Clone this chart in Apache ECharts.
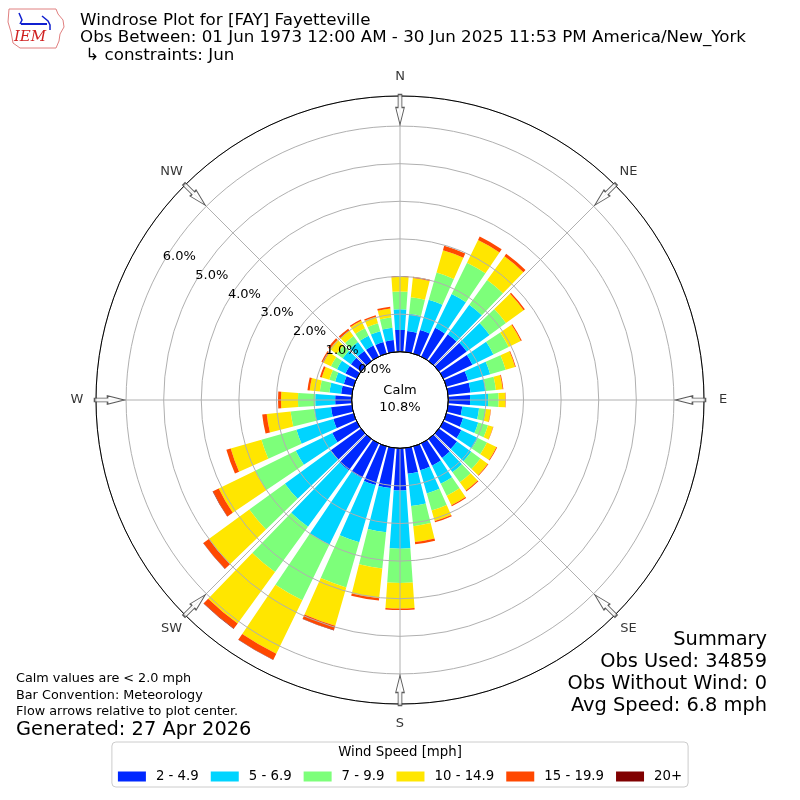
<!DOCTYPE html>
<html><head><meta charset="utf-8">
<script src="https://cdn.jsdelivr.net/npm/echarts@6/dist/echarts.min.js"></script>
<style>html,body{margin:0;padding:0;background:#fff}#c{width:800px;height:800px}</style>
</head><body><div id="c"></div>
<script>
// ---- data (percent of observations per direction sector and speed bin) ----
const directions = ['0','10','20','30','40','50','60','70','80','90','100','110','120','130','140','150','160','170',
  '180','190','200','210','220','230','240','250','260','270','280','290','300','310','320','330','340','350'];
const speedBins = ['2 - 4.9','5 - 6.9','7 - 9.9','10 - 14.9','15 - 19.9','20+'];
const spd2to5 = [0.58,0.56,0.65,0.85,0.88,0.91,0.86,0.60,0.60,0.58, 0.38,0.46,0.53,0.59,0.62,0.66,0.66,0.69,
  1.12,1.07,1.07,1.02,1.03,0.99,0.72,0.56,0.56, 0.44,0.29,0.27,0.33,0.33,0.33,0.33,0.32,0.32];
const spd5to7 = [0.55,0.46,0.84,1.00,0.97,0.75,0.62,0.61,0.41,0.48, 0.45,0.42,0.49,0.47,0.47,0.53,0.64,0.86,
  1.55,1.18,1.58,1.98,1.85,1.51,1.08,1.02,0.45, 0.53,0.31,0.24,0.25,0.27,0.29,0.29,0.30,0.33];
const spd7to10 = [0.47,0.44,0.75,0.93,0.81,0.54,0.45,0.43,0.27,0.28, 0.18,0.27,0.27,0.30,0.33,0.36,0.47,0.54,
  0.91,0.97,1.25,1.64,1.49,1.17,1.20,0.97,0.63, 0.46,0.26,0.16,0.18,0.20,0.20,0.22,0.22,0.27];
const spd10to15 = [0.39,0.52,0.62,0.67,0.78,0.58,0.36,0.26,0.18,0.18, 0.13,0.14,0.28,0.24,0.27,0.28,0.29,0.42,
  0.68,0.80,1.06,1.58,1.69,1.33,1.08,0.85,0.64, 0.45,0.27,0.21,0.22,0.22,0.18,0.22,0.18,0.24];
const spd15to20 = [0.02,0.03,0.12,0.10,0.08,0.04,0.03,0.02,0.02,0.01, 0.01,0.01,0.02,0.02,0.03,0.03,0.04,0.06,
  0.04,0.06,0.12,0.18,0.17,0.18,0.17,0.12,0.12, 0.08,0.06,0.05,0.06,0.06,0.06,0.04,0.04,0.05];
const spd20up = [0,0,0,0,0,0,0,0,0,0, 0,0,0,0,0,0,0,0,
  0,0,0.01,0.01,0.01,0.01,0.01,0,0, 0,0,0,0,0,0,0,0,0];
const compassNames = ['N','NE','E','SE','S','SW','W','NW'];
const compassAngles = [0,45,90,135,180,225,270,315];
const calmPct = 10.8;
const radialTicks = [0,1,2,3,4,5,6];

// ---- styling / layout ----
const binColors = ['#0028ff','#00d4ff','#7dff7a','#ffe600','#ff4800','#800000'];
const FONT = '"DejaVu Sans", sans-serif';
const INNER = 48.3, OUTER = 304, RMAX = 6.8, ARROW_R = 6.44, LABEL_R = 7.31;
const speedSeries = [spd2to5, spd5to7, spd7to10, spd10to15, spd15to20, spd20up];

const chart = echarts.init(document.getElementById('c'), null, {renderer:'canvas'});

const series = speedBins.map((name, i) => ({
  name: name, type: 'bar', coordinateSystem: 'polar', polarIndex: 0, stack: 'wind',
  data: speedSeries[i], barCategoryGap: '20%', itemStyle: {color: binColors[i]}, z: 2, silent: true
}));
// flow arrows on the outer ring
series.push({
  type: 'scatter', coordinateSystem: 'polar', polarIndex: 1, silent: true, z: 9, clip: false,
  symbol: 'path://M4.5,0 L11.5,0 L11.5,13 L16,13 L8,30 L0,13 L4.5,13 Z',
  symbolSize: [16, 30], symbolKeepAspect: true,
  itemStyle: {color: '#ffffff', borderColor: '#333333', borderWidth: 1.2},
  data: compassAngles.map(a => ({value: [ARROW_R, a], symbolRotate: -a}))
});
// compass direction labels, centred outside the ring
series.push({
  type: 'scatter', coordinateSystem: 'polar', polarIndex: 1, silent: true, z: 9, clip: false,
  symbol: 'circle', symbolSize: 1, itemStyle: {color: 'rgba(0,0,0,0)'},
  label: {show: true, position: 'inside', fontSize: 13, fontFamily: FONT, color: '#000',
    formatter: p => compassNames[p.dataIndex]},
  data: compassAngles.map(a => [LABEL_R, a])
});

function txt(text, x, y, size, align, extra) {
  return Object.assign({
    type: 'text', z: 20, silent: true,
    style: {text: text, x: x, y: y, font: size + 'px ' + FONT, fill: '#000',
      align: align, textAlign: align, verticalAlign: 'middle', textVerticalAlign: 'middle'}
  }, extra || {});
}

const option = {
  animation: false,
  backgroundColor: '#ffffff',
  polar: [
    {center: ['50%','50%'], radius: [INNER, OUTER]},
    {center: ['50%','50%'], radius: [INNER, OUTER]},
    {center: ['50%','50%'], radius: [INNER, OUTER]},
    {center: ['50%','50%'], radius: INNER}
  ],
  angleAxis: [
    {polarIndex: 0, type: 'category', data: directions, startAngle: 95, clockwise: true, show: false},
    {polarIndex: 1, type: 'value', min: 0, max: 360, interval: 45, startAngle: 90, clockwise: true, z: 5,
      axisLine: {show: true, lineStyle: {color: '#000', width: 1}},
      axisTick: {show: false}, axisLabel: {show: false},
      splitLine: {show: true, lineStyle: {color: '#b0b0b0', width: 1}}},
    {polarIndex: 2, type: 'value', min: 0, max: 360, startAngle: 150, clockwise: true, show: false},
    {polarIndex: 3, type: 'value', min: 0, max: 360, startAngle: 90, z: 8,
      axisLine: {show: true, lineStyle: {color: '#000', width: 1}},
      axisTick: {show: false}, axisLabel: {show: false}, splitLine: {show: false}}
  ],
  radiusAxis: [
    {polarIndex: 0, type: 'value', min: 0, max: RMAX, show: false},
    {polarIndex: 1, type: 'value', min: 0, max: RMAX, interval: 1, z: 5,
      axisLine: {show: false}, axisTick: {show: false}, axisLabel: {show: false},
      splitLine: {show: true, lineStyle: {color: '#b0b0b0', width: 1}}},
    {polarIndex: 2, type: 'value', min: 0, max: RMAX, interval: 1, z: 7,
      axisLine: {show: false}, axisTick: {show: false}, splitLine: {show: false},
      axisLabel: {show: true, margin: 0, align: 'left', verticalAlign: 'bottom', fontSize: 13,
        fontFamily: FONT, color: '#000',
        formatter: v => radialTicks.indexOf(v) >= 0 ? v.toFixed(1) + '%' : ''}},
    {polarIndex: 3, type: 'value', min: 0, max: 1, show: false}
  ],
  legend: {
    data: speedBins, left: 'center', top: 742, orient: 'horizontal', icon: 'rect',
    itemWidth: 28, itemHeight: 10, itemGap: 12, selectedMode: false,
    padding: [28, 6, 4, 6], borderColor: '#cccccc', borderWidth: 1, borderRadius: 4,
    textStyle: {fontSize: 13.3, fontFamily: FONT, color: '#000', padding: [0, 0, 0, 5]}
  },
  graphic: [
    txt('Windrose Plot for [FAY] Fayetteville', 80, 20.5, 16.7, 'left'),
    txt('Obs Between: 01 Jun 1973 12:00 AM - 30 Jun 2025 11:53 PM America/New_York', 80, 38, 16.7, 'left'),
    txt(' \u21b3 constraints: Jun', 80, 55.5, 16.7, 'left'),
    txt('Calm', 400, 391, 13, 'center'),
    txt(calmPct.toFixed(1) + '%', 400, 408, 13, 'center'),
    txt('Calm values are < 2.0 mph', 16, 679, 12.8, 'left'),
    txt('Bar Convention: Meteorology', 16, 696, 12.8, 'left'),
    txt('Flow arrows relative to plot center.', 16, 712, 12.8, 'left'),
    txt('Generated: 27 Apr 2026', 16, 730, 19.4, 'left'),
    txt('Summary', 767, 640, 19.4, 'right'),
    txt('Obs Used: 34859', 767, 662, 19.4, 'right'),
    txt('Obs Without Wind: 0', 767, 684, 19.4, 'right'),
    txt('Avg Speed: 6.8 mph', 767, 706, 19.4, 'right'),
    txt('Wind Speed [mph]', 400, 753, 13.3, 'center'),
    // IEM logo (approximate)
    {type: 'polyline', z: 20, silent: true,
      shape: {points: [[9,9],[56,9],[58,14],[63,20],[64,27],[60,34],[59,41],[56,48],[20,48],[13,43],[11,32],[8,22],[9,9]]},
      style: {stroke: '#e08080', lineWidth: 1, fill: 'none'}},
    {type: 'polyline', z: 20, silent: true, shape: {points: [[21,24],[47,24]]}, style: {stroke: '#1020d0', lineWidth: 2}},
    {type: 'polyline', z: 20, silent: true, shape: {points: [[19,13],[22,20],[20,24]]}, style: {stroke: '#1020d0', lineWidth: 1.5}},
    {type: 'polyline', z: 20, silent: true, shape: {points: [[42,16],[48,21],[50,25],[50,30]]}, style: {stroke: '#1020d0', lineWidth: 1.5}},
    {type: 'text', z: 20, silent: true,
      style: {text: 'IEM', x: 30, y: 37, font: 'italic 15px "DejaVu Serif", serif', fill: '#d02020',
        align: 'center', textAlign: 'center', verticalAlign: 'middle', textVerticalAlign: 'middle'}}
  ],
  series: series
};
chart.setOption(option);
</script></body></html>
